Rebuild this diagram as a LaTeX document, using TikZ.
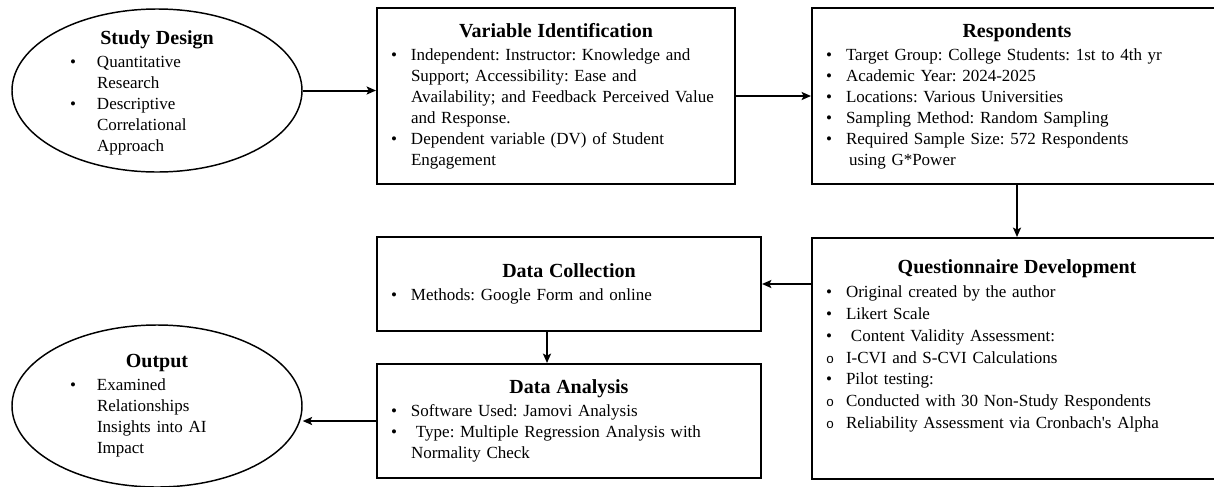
\documentclass[tikz,border=0pt]{standalone}
\usepackage{fontspec}
\setmainfont{Liberation Serif}
\setmonofont{Liberation Mono}
\usepackage{tikz}
\usetikzlibrary{arrows.meta, positioning, shapes.geometric, calc}

\frenchspacing
\newcommand{\boxtitle}[1]{{\noindent\centering\fontsize{15}{16.5}\selectfont\bfseries #1\par}\vspace{1.5pt}}
\newcommand{\bitem}[2][15pt]{\par\hangindent=#1\hangafter=1\noindent
  \makebox[#1][l]{\textbullet}{\let\\\newline #2}\par}
\newcommand{\sitem}[2][15pt]{\par\hangindent=#1\hangafter=1\noindent
  \makebox[#1][l]{\ttfamily\fontsize{10}{10}\selectfont o}{\let\\\newline #2}\par}

\tikzset{
  stagebox/.style={draw,line width=1.5pt,inner xsep=10.5pt,inner ysep=0pt,
    align=left,font=\fontsize{12.75}{15.75}\selectfont},
  stageoval/.style={draw,ellipse,line width=1.1pt,inner sep=0pt},
  ovaltext/.style={inner sep=0pt,align=left,font=\fontsize{12.75}{15.75}\selectfont},
  link/.style={->,line width=1.5pt}
}

\begin{document}
\begin{tikzpicture}[x=0.75pt,y=-0.75pt,>={Stealth[length=7pt,width=6pt,inset=1.5pt]}]
  \useasboundingbox (0,0) rectangle (1214,486);

  % top row
  \node[stageoval,minimum width=217.5pt,minimum height=122.25pt] (design) at (157,90.5) {};
  \node[ovaltext,text width=130.5pt] (designtxt) at ([yshift=-1.5pt]design)
    {\boxtitle{Study Design}
     \bitem[20.25pt]{Quantitative\\Research}
     \bitem[20.25pt]{Descriptive\\Correlational\\Approach}};
  \node[stagebox,text width=247.5pt,minimum width=268.5pt,minimum height=132pt] (var) at (556,96)
    {\boxtitle{Variable Identification}
     \bitem{Independent: Instructor: Knowledge and\\Support; Accessibility: Ease and\\Availability; and Feedback Perceived Value\\and Response.}
     \bitem{Dependent variable (DV) of Student\\Engagement}};
  \node[stagebox,text width=286.5pt,minimum width=307.5pt,minimum height=132pt,
        right=56.25pt of var] (resp)
    {\boxtitle{Respondents}
     \bitem{Target Group: College Students: 1st to 4th yr}
     \bitem{Academic Year: 2024-2025}
     \bitem{Locations: Various Universities}
     \bitem{Sampling Method: Random Sampling}
     \bitem{Required Sample Size: 572 Respondents\\\hspace*{2.25pt}using G*Power}};

  % bottom rows
  \node[stagebox,text width=286.5pt,minimum width=307.5pt,minimum height=180.75pt,
        font=\fontsize{12.75}{16.35}\selectfont,below=39pt of resp] (qd)
    {\boxtitle{Questionnaire Development}
     \bitem{Original created by the author}
     \bitem{Likert Scale}
     \bitem{\hspace*{3.75pt}Content Validity Assessment:}
     \sitem{I-CVI and S-CVI Calculations}
     \bitem{Pilot testing:}
     \sitem{Conducted with 30 Non-Study Respondents}
     \sitem{Reliability Assessment via Cronbach\textquotesingle s Alpha}
     \vspace{5pt}\mbox{}};
  \node[stagebox,text width=267pt,minimum width=288pt,minimum height=70.5pt] (dc) at (569,284)
    {\boxtitle{Data Collection}
     \bitem{Methods: Google Form and online}};
  \node[stagebox,text width=267pt,minimum width=288pt,minimum height=85.5pt,
        below=23.25pt of dc] (da)
    {\boxtitle{Data Analysis}
     \bitem{Software Used: Jamovi Analysis}
     \bitem{\hspace*{3.75pt}Type: Multiple Regression Analysis with\\Normality Check}};
  \node[stageoval,minimum width=217.5pt,minimum height=121.5pt] (out) at (157,406) {};
  \node[ovaltext,text width=130.5pt] (outtxt) at (out)
    {\boxtitle{Output}
     \bitem[20.25pt]{Examined\\Relationships\\Insights into AI\\Impact}};

  % connectors
  \draw[link] (design.east) -- (design.east -| var.west);
  \draw[link] (var.east) -- (var.east -| resp.west);
  \draw[link] (resp.south) -- (qd.north);
  \draw[link] (dc.east -| qd.west) -- (dc.east);
  \coordinate (dcfoot) at ($(dc.south west)!0.443!(dc.south east)$);
  \draw[link] (dcfoot) -- (dcfoot |- da.north);
  \draw[link] (da.west) -- (da.west -| out.east);
\end{tikzpicture}
\end{document}
